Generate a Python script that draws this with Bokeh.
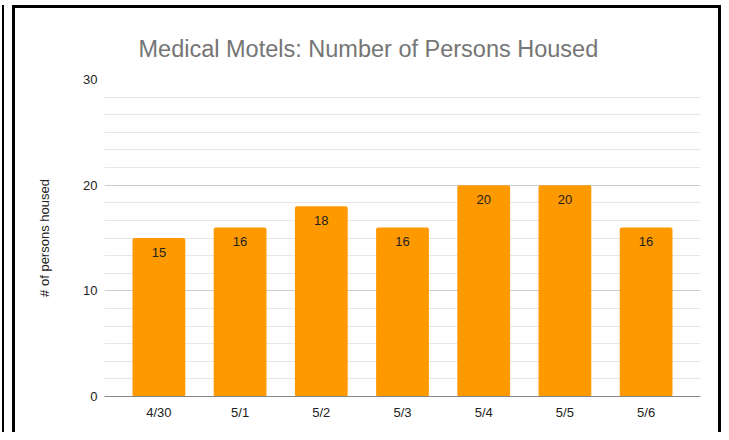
from bokeh.plotting import figure
from bokeh.models import ColumnDataSource, FixedTicker, Range1d, FactorRange
from bokeh.core.properties import value
from bokeh.embed import file_html
from bokeh.resources import INLINE

dates = ["4/30", "5/1", "5/2", "5/3", "5/4", "5/5", "5/6"]
persons = [15, 16, 18, 16, 20, 20, 16]
y_ticks = [0, 10, 20, 30]

src = ColumnDataSource(dict(date=dates, n=persons, lab=[str(v) for v in persons]))

p = figure(
    x_range=FactorRange(factors=dates, range_padding=0.17, range_padding_units="absolute"),
    y_range=Range1d(0, 30),
    width=703, height=424,
    min_border_left=89, min_border_right=24, min_border_top=71, min_border_bottom=39,
    output_backend="svg", toolbar_location=None,
    title="Medical Motels: Number of Persons Housed",
)
p.styles = {
    "box-sizing": "content-box",
    "margin-left": "12px", "margin-top": "5px",
    "border-left": "3px solid black", "border-top": "3px solid black",
    "border-right": "3px solid black",
    "box-shadow": "-8px 0 0 0 white, -10px 0 0 0 black",
}

p.title.align = "left"
p.title.offset = 34
p.title.standoff = 36
p.title.text_font = "Liberation Sans"
p.title.text_font_size = "23.5px"
p.title.text_font_style = "normal"
p.title.text_color = "#757575"

p.vbar(x="date", top="n", width=0.65, source=src, color="#ff9900", line_color=None,
       border_radius=2)
p.text(x="date", y="n", text="lab", source=src, text_align="center", text_baseline="middle",
       y_offset=14, text_font=value("Liberation Sans"), text_font_size="13px", text_color="#222222")

p.outline_line_color = None
p.background_fill_color = "white"
p.border_fill_color = "white"

p.yaxis.ticker = FixedTicker(ticks=y_ticks, minor_ticks=[i * 10 / 6 for i in range(19)])
p.yaxis.axis_line_color = None
p.yaxis.major_tick_line_color = None
p.yaxis.minor_tick_line_color = None
p.yaxis.major_tick_out = 0
p.yaxis.minor_tick_out = 0
p.yaxis.major_label_text_font = "Liberation Sans"
p.yaxis.major_label_text_font_size = "13px"
p.yaxis.major_label_text_color = "#222222"
p.yaxis.major_label_standoff = 7
p.yaxis.axis_label = "# of persons housed"
p.yaxis.axis_label_text_font = "Liberation Sans"
p.yaxis.axis_label_text_font_size = "13px"
p.yaxis.axis_label_text_font_style = "normal"
p.yaxis.axis_label_text_color = "#222222"
p.yaxis.axis_label_standoff = 28

p.xaxis.axis_line_color = "#888888"
p.xaxis.major_tick_line_color = None
p.xaxis.minor_tick_line_color = None
p.xaxis.major_tick_out = 0
p.xaxis.minor_tick_out = 0
p.xaxis.major_label_text_font = "Liberation Sans"
p.xaxis.major_label_text_font_size = "13px"
p.xaxis.major_label_text_color = "#222222"
p.xaxis.major_label_standoff = 8

p.xgrid.grid_line_color = None
p.ygrid.grid_line_color = "#cccccc"
p.ygrid.minor_grid_line_color = "#e6e6e6"

open("out.html", "w").write(file_html(p, INLINE))
